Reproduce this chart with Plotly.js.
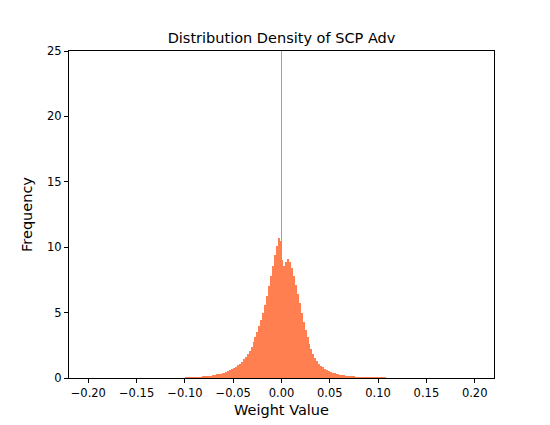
<!DOCTYPE html>
<html><head><script src="https://cdn.plot.ly/plotly-3.0.1.min.js"></script></head>
<body style="margin:0"><div id="c" style="width:550px;height:425px"></div>
<script>
const binCenters = [
-0.099,-0.097,-0.095,-0.093,-0.091,-0.089,-0.087,-0.085,-0.083,-0.081,
-0.079,-0.077,-0.075,-0.073,-0.071,-0.069,-0.067,-0.065,-0.063,-0.061,
-0.059,-0.057,-0.055,-0.053,-0.051,-0.049,-0.047,-0.045,-0.043,-0.041,
-0.039,-0.037,-0.035,-0.033,-0.031,-0.029,-0.027,-0.025,-0.023,-0.021,
-0.019,-0.017,-0.015,-0.013,-0.011,-0.009,-0.007,-0.005,-0.003,-0.001,
0.001,0.003,0.005,0.007,0.009,0.011,0.013,0.015,0.017,0.019,
0.021,0.023,0.025,0.027,0.029,0.031,0.033,0.035,0.037,0.039,
0.041,0.043,0.045,0.047,0.049,0.051,0.053,0.055,0.057,0.059,
0.061,0.063,0.065,0.067,0.069,0.071,0.073,0.075,0.077,0.079,
0.081,0.083,0.085,0.087,0.089,0.091,0.093,0.095,0.097,0.099,
0.101,0.103,0.105,0.107,0.109];
const density = [
0.05,0.05,0.06,0.06,0.07,0.08,0.09,0.10,0.11,0.12,
0.13,0.15,0.17,0.19,0.21,0.24,0.27,0.30,0.34,0.38,
0.42,0.47,0.53,0.6,0.68,0.77,0.87,0.98,1.1,1.25,
1.42,1.62,1.85,2.1,2.4,2.75,3.1,3.5,3.95,4.45,
5.0,5.6,6.3,7.0,7.8,8.6,9.4,10.1,10.7,10.5,
9.0,8.6,8.9,9.1,8.9,8.4,7.8,7.1,6.4,5.7,
5.0,4.3,3.7,3.1,2.6,2.2,1.85,1.55,1.3,1.1,
0.95,0.82,0.71,0.62,0.54,0.47,0.41,0.36,0.32,0.28,
0.25,0.22,0.2,0.18,0.16,0.14,0.13,0.12,0.11,0.1,
0.09,0.09,0.08,0.08,0.07,0.07,0.06,0.06,0.06,0.05,
0.05,0.05,0.04,0.04,0.03];
const spikeX = [0];
const spikeY = [40];
const color = '#FF7F50';
const ax = {showgrid:false, zeroline:false, showline:true, mirror:true, linecolor:'black', linewidth:1,
  ticks:'outside', ticklen:4, tickcolor:'black', tickfont:{size:11.5,color:'black'}};
Plotly.newPlot('c', [
  {type:'bar', x:binCenters, y:density, width:0.002, marker:{color:color, line:{width:0}}, hoverinfo:'none'},
  {type:'bar', x:spikeX, y:spikeY, width:0.0004, marker:{color:color, line:{width:0}}, hoverinfo:'none'}
], {
  width:550, height:425, margin:{l:69, r:56, t:51, b:47},
  font:{family:'DejaVu Sans', color:'black'},
  showlegend:false, barmode:'overlay', bargap:0,
  plot_bgcolor:'white', paper_bgcolor:'white',
  title:{text:'Distribution Density of SCP Adv', font:{size:14.5}, x:0.5, xref:'paper', y:0.91, yanchor:'middle'},
  xaxis:Object.assign({}, ax, {range:[-0.22,0.22], tickvals:[-0.2,-0.15,-0.1,-0.05,0,0.05,0.1,0.15,0.2],
    ticktext:['−0.20','−0.15','−0.10','−0.05','0.00','0.05','0.10','0.15','0.20'],
    title:{text:'Weight Value', font:{size:14.5}, standoff:6}}),
  yaxis:Object.assign({}, ax, {range:[0,25], tickvals:[0,5,10,15,20,25],
    title:{text:'Frequency', font:{size:14.5}, standoff:10}})
}, {staticPlot:true});
</script></body></html>
